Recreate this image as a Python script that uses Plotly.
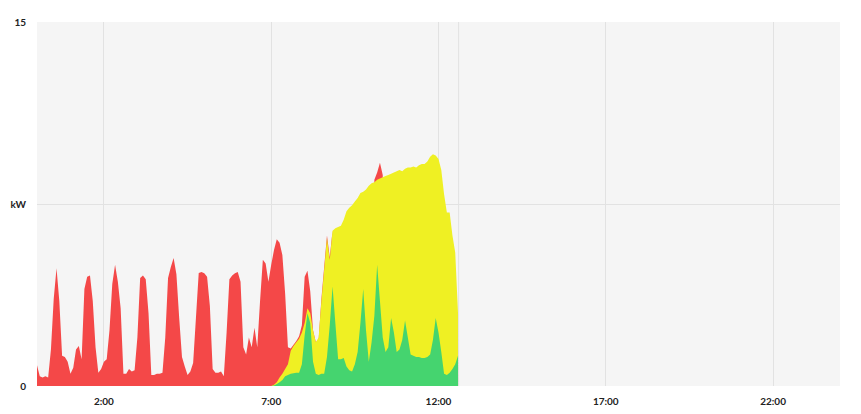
import plotly.graph_objects as go
import pandas as pd

# 5-minute samples from 00:00 to 12:35
times = pd.date_range("2024-01-01 00:00", periods=152, freq="5min")

# Grid consumption (red), kW
grid_kw = [
    0.85, 0.4, 0.35, 0.4, 0.35, 1.5, 3.6, 4.85, 3.5, 1.25, 1.2, 1.0,
    0.5, 0.75, 1.5, 1.65, 1.1, 4.0, 4.5, 4.55, 3.5, 1.6, 0.55, 0.7,
    1.0, 1.1, 2.3, 4.2, 5.0, 4.3, 3.2, 0.5, 0.5, 0.7, 0.6, 0.65,
    2.0, 4.45, 4.55, 4.4, 3.0, 0.45, 0.45, 0.5, 0.5, 0.55, 2.0, 4.45,
    4.9, 5.27, 4.6, 2.8, 1.2, 0.8, 0.45, 0.6, 0.95, 2.8, 4.66, 4.7,
    4.65, 4.5, 3.3, 0.7, 0.55, 0.55, 0.6, 0.4, 2.2, 4.4, 4.55, 4.65,
    4.7, 4.3, 1.6, 1.3, 2.0, 1.6, 2.4, 1.6, 3.5, 5.2, 5.05, 4.3,
    5.0, 5.6, 6.05, 5.9, 5.4, 3.8, 1.6, 1.55, 1.7, 1.85, 2.05, 2.5,
    4.5, 4.75, 3.9, 2.3, 1.8, 1.9, 3.6, 4.9, 6.2, 5.3, 6.4, 3.0,
    1.6, 1.5, 1.6, 1.3, 1.1, 1.0, 1.3, 1.8, 3.0, 4.4, 2.8, 1.5,
    2.3, 8.5, 8.8, 9.2, 8.7, 1.9, 2.0, 3.2, 2.6, 1.8, 1.9, 2.3,
    3.1, 2.4, 1.7, 1.6, 1.6, 1.6, 1.5, 1.5, 1.6, 1.7, 2.3, 3.2,
    2.6, 1.8, 0.9, 0.9, 1.0, 1.1, 1.3, 1.6,
]

# Solar production (yellow), kW
solar_kw = [0.0] * 84 + [
    0.0, 0.05, 0.15, 0.35, 0.5, 0.7, 0.9, 1.45, 1.65, 1.8, 1.95, 2.2,
    2.6, 3.2, 3.0, 2.3, 1.8, 2.0, 3.5, 4.8, 6.1, 5.2, 6.4, 6.5,
    6.55, 6.6, 6.85, 7.2, 7.35, 7.45, 7.6, 7.75, 7.95, 8.0, 8.1, 8.25,
    8.35, 8.4, 8.5, 8.55, 8.6, 8.65, 8.7, 8.75, 8.8, 8.85, 8.9, 8.85,
    8.95, 9.0, 9.0, 9.05, 9.0, 9.1, 9.15, 9.15, 9.25, 9.45, 9.55, 9.5,
    9.35, 8.9, 7.9, 7.15, 7.15, 6.2, 5.5, 3.0,
]

# Self-consumption (green), kW
self_kw = [0.0] * 84 + [
    0.0, 0.02, 0.08, 0.15, 0.25, 0.4, 0.45, 0.5, 0.53, 0.55, 0.55, 0.9,
    2.1, 3.0, 2.6, 1.0, 0.5, 0.45, 0.5, 0.5, 1.2, 2.5, 4.1, 2.6,
    1.1, 1.1, 1.15, 0.8, 0.65, 0.6, 0.9, 1.4, 2.6, 4.0, 2.3, 1.0,
    1.8, 2.9, 5.0, 3.5, 2.0, 1.4, 1.6, 2.8, 2.2, 1.4, 1.5, 1.9,
    2.7, 2.0, 1.3, 1.25, 1.2, 1.2, 1.15, 1.15, 1.2, 1.3, 1.9, 2.8,
    2.2, 1.4, 0.5, 0.45, 0.55, 0.7, 0.9, 1.25,
]

tick_hours = [2, 7, 12, 17, 22]
tick_labels = ["2:00", "7:00", "12:00", "17:00", "22:00"]
y_tick_vals = [0, 7.5, 15]
y_tick_labels = ["0", "kW", "15"]

RED = "#f44848"
YELLOW = "#eff023"
GREEN = "#45d46f"
GRID = "#e2e2e2"

fig = go.Figure()
for vals, col in [(grid_kw, RED), (solar_kw, YELLOW), (self_kw, GREEN)]:
    fig.add_trace(go.Scatter(
        x=times, y=vals, mode="none", fill="tozeroy", fillcolor=col,
        hoverinfo="skip", showlegend=False,
    ))

day0 = pd.Timestamp("2024-01-01 00:00")
now_t = times[-1] + pd.Timedelta(minutes=1)
fig.add_shape(type="line", xref="x", yref="paper",
              x0=now_t, x1=now_t, y0=0, y1=1,
              line=dict(color=GRID, width=1), layer="below")

tick_font = dict(family="Lato", size=10, color="#222222", weight="bold")

# page body has an 8px default margin, so the figure is sized to fit inside it
fig.update_layout(
    width=845, height=398,
    margin=dict(l=29, r=13, t=14, b=20, autoexpand=False),
    paper_bgcolor="white",
    plot_bgcolor="#f5f5f5",
    font=dict(family="Lato, Open Sans, sans-serif", size=10, color="#222222"),
    xaxis=dict(
        type="date",
        range=[day0, day0 + pd.Timedelta(hours=24)],
        tickvals=[day0 + pd.Timedelta(hours=h) for h in tick_hours],
        ticktext=tick_labels,
        showgrid=True, gridcolor=GRID, gridwidth=1,
        zeroline=False, showline=False, ticks="",
        ticklabelstandoff=8, automargin=False,
        tickfont=tick_font,
        fixedrange=True,
    ),
    yaxis=dict(
        range=[0, 15],
        tickvals=y_tick_vals, ticktext=y_tick_labels,
        showgrid=True, gridcolor=GRID, gridwidth=1,
        zeroline=False, showline=False, ticks="",
        ticklabelstandoff=10, automargin=False,
        tickfont=tick_font,
        fixedrange=True,
    ),
)

fig.write_html("out.html")
